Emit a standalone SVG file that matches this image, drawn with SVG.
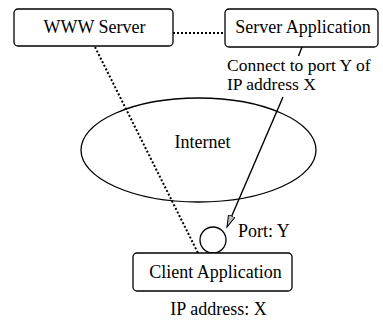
<svg xmlns="http://www.w3.org/2000/svg" width="383" height="320" viewBox="0 0 383 320">
  <style>
    text { font-family: "Liberation Serif", "Times New Roman", serif; font-size: 18px; fill: #000; }
    .lbl { font-size: 17.5px; }
    .box { fill: #fff; stroke: #000; stroke-width: 1.3; }
    .dot { fill: none; stroke: #000; stroke-width: 2; stroke-dasharray: 2 2; }
    .solid { fill: none; stroke: #000; stroke-width: 1.4; }
  </style>
  <defs>
    <marker id="arrow" markerWidth="14" markerHeight="10" refX="12" refY="4" orient="auto" markerUnits="userSpaceOnUse">
      <path d="M0,0.5 L12,4 L0,7.5 Z" fill="#bbb" stroke="#000" stroke-width="1"/>
    </marker>
  </defs>
  <rect width="383" height="320" fill="#fff"/>

  <g id="connectors">
    <line class="dot" x1="173" y1="33" x2="225" y2="33"/>
    <line class="dot" x1="95" y1="47" x2="198" y2="253"/>
    <line class="solid" x1="302" y1="47" x2="298.5" y2="56"/>
    <line class="solid" x1="283" y1="97" x2="227" y2="227" marker-end="url(#arrow)"/>
  </g>

  <g id="internet">
    <ellipse cx="198.5" cy="150" rx="117.5" ry="52" fill="none" stroke="#000" stroke-width="1.3"/>
    <text x="202.5" y="148" text-anchor="middle">Internet</text>
  </g>

  <g id="www-server">
    <rect class="box" x="14" y="9" width="159" height="37" rx="4"/>
    <text x="94.5" y="33" text-anchor="middle">WWW Server</text>
  </g>

  <g id="server-application">
    <rect class="box" x="225" y="9" width="153" height="38" rx="4"/>
    <text x="303" y="33" text-anchor="middle">Server Application</text>
  </g>

  <g id="connect-label">
    <text class="lbl" x="227" y="70.5">Connect to port Y of</text>
    <text class="lbl" x="227" y="90">IP address X</text>
  </g>

  <g id="port">
    <circle cx="213" cy="240" r="13" fill="#fff" stroke="#000" stroke-width="1.3"/>
    <text x="238" y="237">Port: Y</text>
  </g>

  <g id="client-application">
    <rect class="box" x="133" y="253" width="159" height="38" rx="4"/>
    <text x="215.5" y="278" text-anchor="middle">Client Application</text>
    <text x="218.5" y="315" text-anchor="middle">IP address: X</text>
  </g>
</svg>
